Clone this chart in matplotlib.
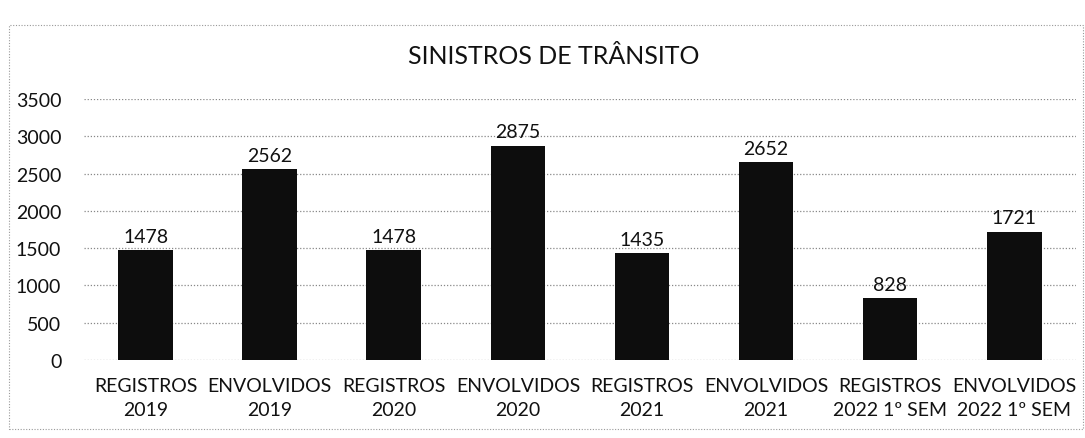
import matplotlib
matplotlib.use("Agg")
import matplotlib.pyplot as plt
from matplotlib.patches import Rectangle

categorias = ["REGISTROS\n2019", "ENVOLVIDOS\n2019", "REGISTROS\n2020", "ENVOLVIDOS\n2020",
              "REGISTROS\n2021", "ENVOLVIDOS\n2021", "REGISTROS\n2022 1º SEM", "ENVOLVIDOS\n2022 1º SEM"]
valores = [1478, 2562, 1478, 2875, 1435, 2652, 828, 1721]
yticks = [0, 500, 1000, 1500, 2000, 2500, 3000, 3500]

plt.rcParams['font.family'] = ['Lato', 'DejaVu Sans']

fig = plt.figure(figsize=(10.85, 4.39), dpi=100)
ax = fig.add_axes([0.077, 0.178, 0.915, 0.594])

x = range(len(categorias))
bars = ax.bar(x, valores, width=0.44, color='#0d0d0d', zorder=3)
for b, v in zip(bars, valores):
    ax.text(b.get_x() + b.get_width() / 2, v + 70, str(v), ha='center', va='bottom',
            fontsize=14, color='#111111')

ax.set_xlim(-0.5, len(categorias) - 0.5)
ax.set_ylim(0, 3500)
ax.set_yticks(yticks)
ax.set_xticks(list(x))
ax.set_xticklabels(categorias, fontsize=14, color='#111111', linespacing=1.5)
ax.tick_params(axis='y', labelsize=14, labelcolor='#111111', length=0, pad=16)
ax.tick_params(axis='x', length=0, pad=12)
ax.grid(axis='y', linestyle=(0, (1, 1.5)), color='#888888', linewidth=0.9, zorder=0)
for s in ax.spines.values():
    s.set_visible(False)

fig.text(0.51, 0.872, "SINISTROS DE TRÂNSITO", ha='center', va='center', fontsize=18, color='#111111')

fig.patches.append(Rectangle((0.008, 0.02), 0.99, 0.92, transform=fig.transFigure, fill=False,
                             edgecolor='#999999', linestyle=(0, (1, 1.5)), linewidth=0.8))

fig.savefig("out.png", dpi=100, facecolor='white')
